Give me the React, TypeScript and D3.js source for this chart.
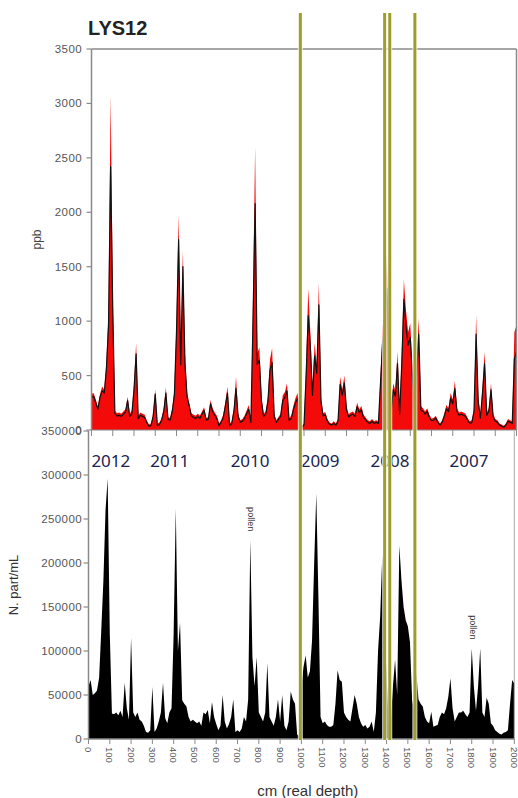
import React from "react";
import * as d3 from "d3";

// depth grid, cm (real depth), one sample every 10 cm
const depths = d3.range(0, 2001, 10);

// upper panel, ppb: red filled series
const ppbRed = [
  330, 340, 280, 215, 330, 400, 370, 615, 1100, 3070, 1300, 180, 155, 160, 150, 170, 190, 305, 150, 180,
  420, 800, 130, 160, 150, 140, 90, 50, 60, 150, 375, 60, 70, 110, 200, 390, 120, 110, 200, 370,
  1000, 1980, 700, 1650, 700, 340, 250, 155, 140, 130, 150, 130, 170, 210, 110, 120, 275, 200, 160, 130,
  60, 90, 140, 260, 400, 60, 80, 200, 490, 150, 90, 100, 130, 180, 230, 90, 1200, 2600, 700, 760,
  300, 150, 170, 300, 650, 750, 150, 90, 120, 150, 320, 350, 430, 110, 130, 220, 295, 340, 150, 40,
  60, 600, 1300, 890, 370, 800, 600, 1350, 300, 155, 165, 100, 70, 60, 80, 60, 100, 490, 370, 500,
  220, 145, 160, 170, 150, 250, 190, 220, 140, 115, 90, 80, 100, 80, 90, 80, 500, 950, 1100, 1600,
  700, 200, 430, 360, 720, 170, 700, 1380, 1100, 900, 980, 580, 200, 600, 1030, 220, 200, 170, 200, 140,
  105, 110, 130, 90, 60, 90, 150, 230, 200, 340, 280, 450, 200, 160, 170, 160, 150, 110, 80, 90,
  200, 1055, 300, 130, 400, 720, 160, 200, 430, 150, 100, 90, 60, 50, 40, 60, 100, 90, 80, 900,
  960,
];

// upper panel, ppb: black line series
const ppbBlack = [
  300, 310, 250, 190, 300, 360, 340, 560, 950, 2420, 1100, 150, 130, 135, 125, 145, 165, 270, 125, 150,
  370, 700, 105, 135, 125, 115, 70, 35, 40, 125, 330, 40, 50, 90, 170, 340, 100, 90, 170, 320,
  900, 1750, 600, 1500, 600, 300, 220, 130, 115, 105, 125, 105, 145, 180, 90, 100, 240, 170, 135, 105,
  40, 70, 115, 220, 340, 40, 60, 170, 380, 125, 70, 80, 105, 150, 190, 70, 1000, 2080, 600, 640,
  260, 125, 145, 260, 550, 620, 125, 70, 100, 125, 270, 300, 360, 90, 105, 185, 250, 290, 125, 25,
  45, 500, 1050, 760, 320, 680, 520, 1150, 260, 130, 140, 80, 55, 45, 60, 45, 80, 420, 320, 430,
  185, 120, 135, 145, 125, 215, 160, 185, 115, 95, 70, 60, 80, 60, 70, 60, 430, 800, 950, 1300,
  600, 170, 370, 310, 610, 145, 600, 1200, 950, 780, 850, 500, 170, 520, 880, 185, 170, 145, 170, 115,
  85, 90, 110, 70, 45, 70, 125, 195, 170, 290, 240, 380, 170, 135, 145, 135, 125, 90, 60, 70,
  170, 880, 260, 110, 340, 610, 135, 170, 370, 125, 80, 70, 45, 35, 25, 45, 80, 70, 60, 650,
  720,
];

// lower panel, N. part/mL
const particles = [
  60000, 67000, 50000, 52000, 55000, 70000, 124000, 180000, 260000, 296000, 120000, 29000, 28000, 30000, 27000, 32000, 25000, 64000, 35000, 22000,
  115000, 30000, 25000, 30000, 22000, 20000, 15000, 8000, 7000, 10000, 59000, 8000, 12000, 20000, 30000, 64000, 24000, 18000, 30000, 35000,
  120000, 262000, 100000, 132000, 44000, 40000, 37000, 25000, 20000, 22000, 20000, 18000, 20000, 15000, 30000, 28000, 33000, 18000, 42000, 25000,
  17000, 10000, 15000, 50000, 20000, 12000, 17000, 25000, 45000, 8000, 10000, 8000, 12000, 25000, 20000, 45000, 226000, 93000, 60000, 93000,
  30000, 25000, 20000, 30000, 86000, 25000, 20000, 15000, 25000, 45000, 20000, 50000, 15000, 10000, 20000, 54000, 45000, 40000, 5000, 3000,
  60000, 82000, 95000, 70000, 77000, 112000, 200000, 279000, 160000, 25000, 18000, 20000, 16000, 14000, 14000, 16000, 40000, 78000, 67000, 65000,
  30000, 25000, 22000, 20000, 35000, 50000, 40000, 25000, 18000, 14000, 16000, 12000, 14000, 20000, 8000, 30000, 100000, 139000, 210000, 120000,
  75000, 15000, 20000, 60000, 90000, 50000, 220000, 180000, 150000, 135000, 128000, 110000, 45000, 30000, 75000, 45000, 40000, 37000, 25000, 20000,
  18000, 31000, 14000, 15000, 16000, 25000, 30000, 28000, 35000, 48000, 69000, 35000, 20000, 25000, 30000, 30000, 32000, 28000, 25000, 30000,
  103000, 60000, 32000, 60000, 103000, 30000, 25000, 47000, 40000, 18000, 15000, 10000, 8000, 6000, 5000, 7000, 8000, 10000, 40000, 67000,
  63000,
];

const ppbTicks = [0, 500, 1000, 1500, 2000, 2500, 3000, 3500];
const partTicks = [0, 50000, 100000, 150000, 200000, 250000, 300000, 350000];
const depthTicks = d3.range(0, 2001, 100);

const yearNames = ["2012", "2011", "2010", "2009", "2008", "2007"];
const yearDepths = [105, 382, 759, 1088, 1416, 1787];

const markerDepths = [995, 1391, 1415, 1533];

const pollenDepths = [762, 1806];
const pollenValues = [226000, 103000];

const font = "'Liberation Sans', Arial, sans-serif";
const tickColor = "#555";
const axisColor = "#8a8a8a";

export default function App() {
  const xTop = d3.scaleLinear().domain([0, 2000]).range([91.5, 516.5]);
  const yTop = d3.scaleLinear().domain([0, 3500]).range([430, 49]);
  const xBot = d3.scaleLinear().domain([0, 2000]).range([88.5, 514.3]);
  const yBot = d3.scaleLinear().domain([0, 350000]).range([739, 431]);

  const redArea = d3
    .area<number>()
    .x((_, i) => xTop(depths[i]))
    .y0(yTop(0))
    .y1((d) => yTop(d))(ppbRed);

  const blackLine = d3
    .line<number>()
    .x((_, i) => xTop(depths[i]))
    .y((d) => yTop(d))(ppbBlack);

  const partArea = d3
    .area<number>()
    .x((_, i) => xBot(depths[i]))
    .y0(yBot(0))
    .y1((d) => yBot(d))(particles);

  return (
    <svg
      width={518}
      height={798}
      style={{ position: "absolute", left: 0, top: 0, background: "#fff" }}
      fontFamily={font}
    >
      <text x={88} y={35} fontSize={20} fontWeight="bold" fill="#222">
        LYS12
      </text>

      {/* upper panel */}
      <path d={redArea ?? ""} fill="#f50a0a" />
      <path d={blackLine ?? ""} fill="none" stroke="#111" strokeWidth={1.2} strokeLinejoin="round" />
      <line x1={xTop(0)} x2={xTop(2000)} y1={yTop(3500)} y2={yTop(3500)} stroke={axisColor} strokeWidth={1.5} />
      <line x1={xTop(2000)} x2={xTop(2000)} y1={yTop(3500)} y2={yTop(0)} stroke={axisColor} strokeWidth={1.5} />
      <line x1={xTop(0)} x2={xTop(0)} y1={yTop(3500)} y2={yTop(0)} stroke={axisColor} strokeWidth={1.5} />
      <line x1={xTop(0)} x2={xTop(2000)} y1={yTop(0)} y2={yTop(0)} stroke={axisColor} strokeWidth={1} />
      {ppbTicks.map((t) => (
        <g key={"pt" + t}>
          <line x1={xTop(0) - 5} x2={xTop(0)} y1={yTop(t)} y2={yTop(t)} stroke={axisColor} strokeWidth={1.2} />
          <text x={82} y={yTop(t)} dy="0.35em" textAnchor="end" fontSize={11.5} letterSpacing={0.4} fill={tickColor}>
            {t}
          </text>
        </g>
      ))}
      {depthTicks.map((t) => (
        <line key={"dt" + t} x1={xTop(t)} x2={xTop(t)} y1={yTop(0)} y2={yTop(0) + 6} stroke={axisColor} strokeWidth={1} />
      ))}
      <text transform={`translate(41,${yTop(1750)}) rotate(-90)`} textAnchor="middle" fontSize={12} fill="#444">
        ppb
      </text>

      {/* lower panel */}
      <path d={partArea ?? ""} fill="#000" />
      <line x1={xBot(0)} x2={xBot(0)} y1={yBot(350000)} y2={yBot(0)} stroke={axisColor} strokeWidth={1.5} />
      <line x1={xBot(2000)} x2={xBot(2000)} y1={yBot(350000)} y2={yBot(0)} stroke="#aaa" strokeWidth={1} />
      <line x1={xBot(0)} x2={xBot(2000)} y1={yBot(0)} y2={yBot(0)} stroke={axisColor} strokeWidth={1.5} />
      {partTicks.map((t) => (
        <g key={"bt" + t}>
          <line x1={xBot(0) - 5} x2={xBot(0)} y1={yBot(t)} y2={yBot(t)} stroke={axisColor} strokeWidth={1.2} />
          <text x={82} y={yBot(t)} dy="0.35em" textAnchor="end" fontSize={11.5} letterSpacing={0.4} fill={tickColor}>
            {t}
          </text>
        </g>
      ))}
      {depthTicks.map((t) => (
        <g key={"bx" + t}>
          <line x1={xBot(t)} x2={xBot(t)} y1={yBot(0)} y2={yBot(0) + 5} stroke={axisColor} strokeWidth={1} />
          <text
            transform={`translate(${xBot(t)},${yBot(0) + 8}) rotate(90)`}
            dominantBaseline="central"
            fontSize={9.5}
            fill={tickColor}
          >
            {t}
          </text>
        </g>
      ))}
      <text transform={`translate(18,${yBot(175000)}) rotate(-90)`} textAnchor="middle" fontSize={13} fill="#333">
        N. part/mL
      </text>
      <text x={xBot(1030)} y={796} textAnchor="middle" fontSize={15} fill="#333">
        cm (real depth)
      </text>

      {pollenDepths.map((d, i) => (
        <text
          key={"pol" + d}
          transform={`translate(${xBot(d)},${yBot(pollenValues[i]) - 33}) rotate(90)`}
          dominantBaseline="central"
          fontSize={9}
          fill="#333"
        >
          pollen
        </text>
      ))}

      {yearNames.map((y, i) => (
        <text key={y} x={xBot(yearDepths[i])} y={467} textAnchor="middle" fontSize={17} fontFamily="'Noto Sans', sans-serif" fill="#1c2350">
          {y}
        </text>
      ))}

      {markerDepths.map((d) => (
        <g key={"m" + d}>
          <line x1={xBot(d)} x2={xBot(d)} y1={13} y2={740} stroke="#fff" strokeWidth={5} strokeOpacity={0.8} />
          <line x1={xBot(d)} x2={xBot(d)} y1={13} y2={740} stroke="#9d9d2c" strokeWidth={3} />
        </g>
      ))}
    </svg>
  );
}
